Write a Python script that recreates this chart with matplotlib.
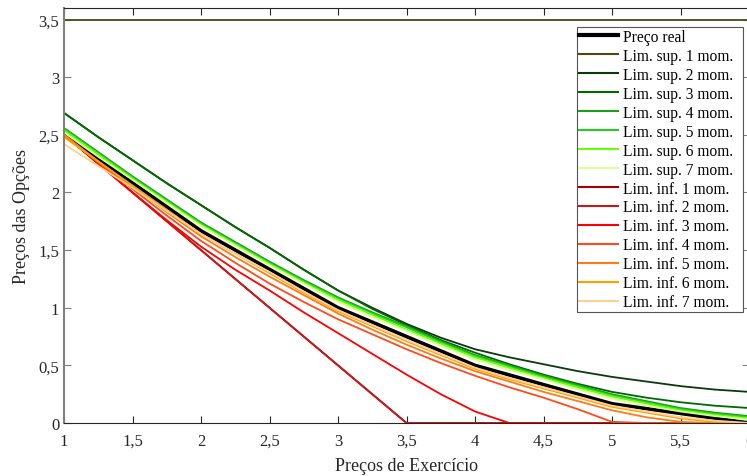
import matplotlib
matplotlib.use('Agg')
import matplotlib.pyplot as plt
import numpy as np

# strike prices
strikes = [1, 1.25, 1.5, 1.75, 2, 2.25, 2.5, 2.75, 3, 3.25, 3.5,
           3.75, 4, 4.25, 4.5, 4.75, 5, 5.25, 5.5, 5.75, 6]

real_price = [2.5, 2.292, 2.083, 1.875, 1.667, 1.5, 1.333, 1.167, 1.0, 0.875, 0.75,
              0.625, 0.5, 0.417, 0.333, 0.25, 0.167, 0.125, 0.083, 0.042, 0.0]

sup_1 = [3.5] * 21
sup_2 = [2.69, 2.48, 2.28, 2.08, 1.89, 1.70, 1.52, 1.33, 1.15, 1.00, 0.86,
         0.74, 0.64, 0.57, 0.51, 0.45, 0.40, 0.36, 0.32, 0.29, 0.27]
sup_3 = [2.69, 2.48, 2.28, 2.08, 1.89, 1.70, 1.52, 1.33, 1.15, 0.99, 0.85,
         0.72, 0.61, 0.51, 0.42, 0.34, 0.27, 0.22, 0.18, 0.15, 0.13]
sup_4 = [2.56, 2.35, 2.14, 1.94, 1.74, 1.57, 1.40, 1.24, 1.09, 0.96, 0.84,
         0.71, 0.59, 0.50, 0.41, 0.33, 0.25, 0.19, 0.13, 0.09, 0.06]
sup_5 = [2.55, 2.34, 2.13, 1.93, 1.73, 1.56, 1.39, 1.23, 1.08, 0.95, 0.83,
         0.70, 0.58, 0.49, 0.40, 0.32, 0.24, 0.18, 0.12, 0.08, 0.05]
sup_6 = [2.54, 2.33, 2.12, 1.92, 1.72, 1.55, 1.38, 1.22, 1.07, 0.94, 0.81,
         0.69, 0.57, 0.48, 0.39, 0.31, 0.23, 0.17, 0.11, 0.07, 0.04]
sup_7 = [2.52, 2.31, 2.11, 1.91, 1.71, 1.54, 1.37, 1.21, 1.05, 0.92, 0.80,
         0.67, 0.55, 0.46, 0.38, 0.29, 0.21, 0.15, 0.10, 0.06, 0.03]

inf_1 = [2.5, 2.25, 2.0, 1.75, 1.5, 1.25, 1.0, 0.75, 0.5, 0.25, 0.0,
         0.0, 0.0, 0.0, 0.0, 0.0, 0.0, 0.0, 0.0, 0.0, 0.0]
inf_2 = [2.5, 2.25, 2.0, 1.75, 1.5, 1.25, 1.0, 0.75, 0.5, 0.25, 0.0,
         0.0, 0.0, 0.0, 0.0, 0.0, 0.0, 0.0, 0.0, 0.0, 0.0]
inf_3 = [2.5, 2.25, 2.0, 1.76, 1.53, 1.33, 1.15, 0.96, 0.78, 0.60, 0.42,
         0.25, 0.10, 0.0, 0.0, 0.0, 0.0, 0.0, 0.0, 0.0, 0.0]
inf_4 = [2.5, 2.26, 2.03, 1.80, 1.58, 1.39, 1.21, 1.05, 0.90, 0.77, 0.64,
         0.52, 0.41, 0.31, 0.22, 0.12, 0.01, 0.0, 0.0, 0.0, 0.0]
inf_5 = [2.5, 2.27, 2.05, 1.83, 1.62, 1.44, 1.27, 1.11, 0.95, 0.81, 0.68,
         0.56, 0.45, 0.36, 0.27, 0.19, 0.11, 0.05, 0.01, 0.0, 0.0]
inf_6 = [2.48, 2.27, 2.06, 1.85, 1.64, 1.47, 1.30, 1.13, 0.97, 0.84, 0.71,
         0.59, 0.47, 0.38, 0.30, 0.22, 0.14, 0.09, 0.04, 0.01, 0.0]
inf_7 = [2.42, 2.23, 2.04, 1.84, 1.64, 1.47, 1.31, 1.14, 0.98, 0.85, 0.72,
         0.60, 0.48, 0.39, 0.31, 0.23, 0.15, 0.10, 0.05, 0.02, 0.0]

sup_series = [sup_1, sup_2, sup_3, sup_4, sup_5, sup_6, sup_7]
inf_series = [inf_1, inf_2, inf_3, inf_4, inf_5, inf_6, inf_7]

sup_colors = ['#4a4a10', '#0a3a0a', '#006a00', '#1aa01a', '#22d022', '#66ff00', '#ddff99']
inf_colors = ['#a80000', '#c81818', '#ff0000', '#ff4a1a', '#ff7a1a', '#ffa000', '#ffd090']

xticks = [1, 1.5, 2, 2.5, 3, 3.5, 4, 4.5, 5, 5.5, 6]
xticklabels = ['1', '1,5', '2', '2,5', '3', '3,5', '4', '4,5', '5', '5,5', '6']
yticks = [0, 0.5, 1, 1.5, 2, 2.5, 3, 3.5]
yticklabels = ['0', '0,5', '1', '1,5', '2', '2,5', '3', '3,5']

plt.rcParams['font.family'] = ['Liberation Serif', 'DejaVu Serif']


def main():
    fig = plt.figure(figsize=(7.47, 4.77), dpi=100)
    ax = fig.add_axes([64 / 747, 53 / 477, 685 / 747, 415 / 477])

    # trailing spaces give the legend its wider right margin
    ax.plot(strikes, real_price, color='black', lw=2.6, label='Preço real  ')
    for i, (vals, c) in enumerate(zip(sup_series, sup_colors)):
        ax.plot(strikes, vals, color=c, lw=1.3, label='Lim. sup. %d mom.  ' % (i + 1))
    for i, (vals, c) in enumerate(zip(inf_series, inf_colors)):
        ax.plot(strikes, vals, color=c, lw=1.3, label='Lim. inf. %d mom.  ' % (i + 1))

    ax.set_xlim(1, 6)
    ax.set_ylim(0, 3.6)
    ax.set_xticks(xticks)
    ax.set_xticklabels(xticklabels)
    ax.set_yticks(yticks)
    ax.set_yticklabels(yticklabels)
    ax.tick_params(direction='in', top=True, right=True, labelsize=12, length=5, width=0.8)
    ax.tick_params(axis='y', colors='#808080', labelcolor='#262626')
    ax.tick_params(axis='x', colors='#262626', pad=7)

    ax.spines['left'].set_color('#808080')
    ax.spines['left'].set_linewidth(1.5)
    ax.spines['bottom'].set_color('#262626')
    ax.spines['top'].set_color('#262626')
    ax.spines['top'].set_linewidth(0.8)

    ax.set_xlabel('Preços de Exercício', fontsize=13, color='#262626', labelpad=6)
    ax.set_ylabel('Preços das Opções', fontsize=13, color='#262626', labelpad=6)

    leg = ax.legend(loc='upper right', bbox_to_anchor=(743 / 747, 1 - 28 / 477),
                    bbox_transform=fig.transFigure, borderaxespad=0, fontsize=11.2,
                    fancybox=False, framealpha=1, edgecolor='#555555',
                    handlelength=2.5, labelspacing=0.19, borderpad=0.12, handletextpad=0.35)
    leg.get_frame().set_linewidth(0.8)
    for line in leg.get_lines():
        if line.get_color() != 'black':
            line.set_linewidth(1.5)
        else:
            line.set_linewidth(3)

    fig.savefig('out.png', dpi=100)


if __name__ == "__main__":
    main()
